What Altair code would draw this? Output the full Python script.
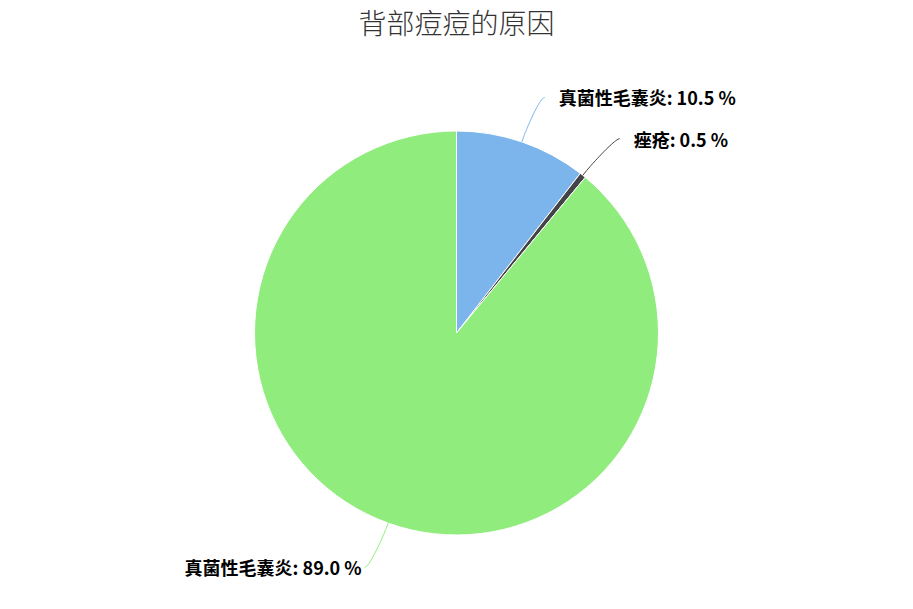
import altair as alt
import pandas as pd
import numpy as np

# ---- data ----
title_text = "背部痘痘的原因"
slice_ids = ["s1", "s2", "s3"]
names = ["真菌性毛囊炎", "痤疮", "真菌性毛囊炎"]
values = [10.5, 0.5, 89.0]
colors = ["#7cb5ec", "#434348", "#90ed7d"]

# ---- geometry (style) ----
W, H = 897, 536
R = 202            # pie radius
LABEL_R = 249      # radius of connector end
SHIFT = 7.5        # horizontal shift of connector end
FONT = "Noto Sans CJK SC"

vals = np.array(values, dtype=float)
frac = vals / vals.sum()
ends = np.cumsum(frac)
starts = ends - frac
mids = (starts + ends) / 2 * 2 * np.pi


def polar(r, a):
    return np.array([r * np.sin(a), r * np.cos(a)])


pie_df = pd.DataFrame({"id": slice_ids, "name": names, "value": values,
                       "idx": list(range(len(values)))})

line_rows = []
label_rows = []
ts = np.linspace(0, 1, 25)
for i, a in enumerate(mids):
    side = 1 if np.sin(a) >= 0 else -1
    P = polar(R, a)
    B = polar(R + 6, a)
    C2 = 2 * B - P
    Ep = polar(LABEL_R, a) + np.array([SHIFT * side, 0])
    C1 = Ep - np.array([5 * side, 0])
    k = 0
    for t in ts:
        pt = ((1 - t) ** 3) * Ep + 3 * ((1 - t) ** 2) * t * C1 + 3 * (1 - t) * t * t * C2 + t ** 3 * B
        line_rows.append({"id": slice_ids[i], "k": k, "x": pt[0], "y": pt[1]})
        k += 1
    line_rows.append({"id": slice_ids[i], "k": k, "x": P[0], "y": P[1]})
    lx = Ep[0] + (14 if side > 0 else -3)
    label_rows.append({"id": slice_ids[i], "x": lx, "y": Ep[1] - 3,
                       "side": "right" if side > 0 else "left",
                       "text": f"{names[i]}: {values[i]:.1f} %"})

line_df = pd.DataFrame(line_rows)
label_df = pd.DataFrame(label_rows)

xs = alt.Scale(domain=[-W / 2, W / 2], nice=False, zero=False)
ys = alt.Scale(domain=[-H / 2, H / 2], nice=False, zero=False)
cscale = alt.Scale(domain=slice_ids, range=colors)

pie = alt.Chart(pie_df).mark_arc(radius=R, stroke="white", strokeWidth=1).encode(
    theta=alt.Theta("value:Q", stack=True),
    order=alt.Order("idx:Q"),
    color=alt.Color("id:N", scale=cscale, legend=None),
)

lines = alt.Chart(line_df).mark_line(strokeWidth=1).encode(
    x=alt.X("x:Q", scale=xs, axis=None),
    y=alt.Y("y:Q", scale=ys, axis=None),
    color=alt.Color("id:N", scale=cscale, legend=None),
    detail="id:N",
    order="k:Q",
)

lab_right = alt.Chart(label_df).transform_filter(alt.datum.side == "right").mark_text(
    align="left", baseline="middle", font=FONT, fontSize=18, fontWeight="bold", color="#000000"
).encode(x=alt.X("x:Q", scale=xs, axis=None), y=alt.Y("y:Q", scale=ys, axis=None), text="text:N")

lab_left = alt.Chart(label_df).transform_filter(alt.datum.side == "left").mark_text(
    align="right", baseline="middle", font=FONT, fontSize=18, fontWeight="bold", color="#000000"
).encode(x=alt.X("x:Q", scale=xs, axis=None), y=alt.Y("y:Q", scale=ys, axis=None), text="text:N")

chart = alt.layer(pie, lines, lab_right, lab_left).properties(
    width=W, height=H,
    title=alt.TitleParams(title_text, font=FONT, fontSize=28, fontWeight=300,
                          color="#333333", anchor="middle", offset=25),
    padding={"top": 4, "bottom": 0, "left": 0, "right": 0},
).configure_view(stroke=None)

chart.save("out.html", embed_options={"renderer": "svg", "actions": False})
